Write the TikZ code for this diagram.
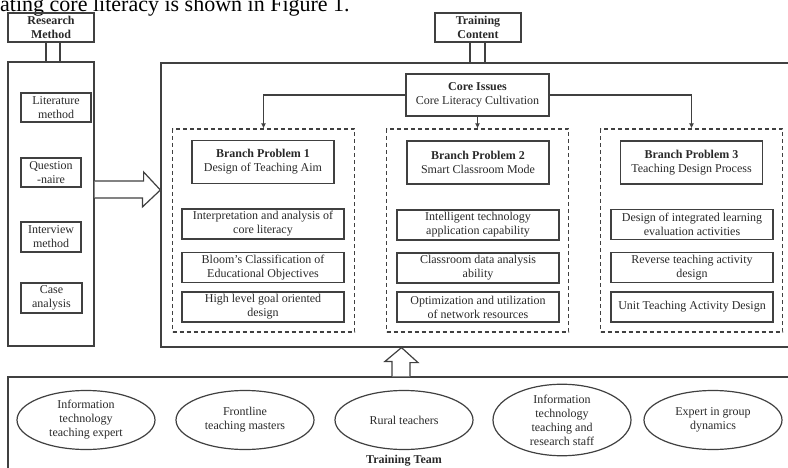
\documentclass[tikz,border=0pt]{standalone}
\usepackage{fontspec}
\setmainfont{Liberation Serif}
\usetikzlibrary{arrows.meta, calc, shapes.geometric}
\definecolor{LineGray}{rgb}{0.25, 0.25, 0.25}
\definecolor{TextGray}{rgb}{0.16, 0.16, 0.16}
\newcommand{\txt}{\fontsize{12}{14}\selectfont}

\begin{document}
\begin{tikzpicture}[
    x=1pt, y=-1pt,
    font=\txt,
    box/.style={draw=LineGray, line width=1.2pt, text=TextGray, align=center,
        inner sep=0pt},
    head/.style={box, font=\txt\bfseries, minimum width=86pt, minimum height=29pt},
    dashbox/.style={draw=LineGray, line width=1.2pt, dash pattern=on 4pt off 3pt,
        minimum width=182pt, minimum height=203pt},
    branch/.style={box, minimum width=142pt, minimum height=43pt},
    item/.style={box, minimum width=162pt, minimum height=30pt},
    member/.style={box, ellipse, minimum width=138pt, minimum height=59pt},
    line/.style={draw=LineGray, line width=1.2pt},
    hollow/.style={line, fill=white, line join=miter},
    tip/.style={line, -{Latex[length=5pt, width=5pt]}}
]
\useasboundingbox (0,0) rectangle (788,468);
\clip (0,0) rectangle (788,468);

% cut-off line of the page text
\node[anchor=base west, inner sep=0pt, font=\fontsize{22}{26}\selectfont] (caption) at (0,12)
    {ating core literacy is shown in Figure 1.};

% research method column
\node[head] (rmh) at (51,27.5) {Research\\Method};
\node[box, minimum width=86pt, minimum height=284pt] (methods) at (51,204) {};
\node[box, minimum width=70pt, minimum height=29pt] (lit) at (56,107.5) {Literature\\method};
\node[box, minimum width=60pt, minimum height=29pt] (quest) at (51,172.5) {Question\\-naire};
\node[box, minimum width=60pt, minimum height=30pt] (inter) at (51,237) {Interview\\method};
\node[box, minimum width=61pt, minimum height=30pt] (case) at (51.5,298) {Case\\analysis};

\draw[line] ($(rmh.south)+(-5,0)$) -- ($(rmh.south |- methods.north)+(-5,0)$);
\draw[line] ($(rmh.south)+(9,0)$) -- ($(rmh.south |- methods.north)+(9,0)$);

% training content
\node[head] (tch) at (478,27.5) {Training\\Content};
\node[box, minimum width=634pt, minimum height=284pt] (content) at (478,205) {};

\draw[line] ($(tch.south)+(-8,0)$) -- ($(tch.south |- content.north)+(-8,0)$);
\draw[line] ($(tch.south)+(7,0)$) -- ($(tch.south |- content.north)+(7,0)$);

\node[box, minimum width=143pt, minimum height=42pt] (core) at (477.5,95)
    {\textbf{Core Issues}\\Core Literacy Cultivation};

\node[dashbox] (dash1) at (263.5,230.5) {};
\node[dashbox] (dash2) at (477.5,230.5) {};
\node[dashbox] (dash3) at (691.5,230.5) {};

\draw[tip] (core.west) -| (dash1.north);
\draw[tip] (core.south) -- (dash2.north);
\draw[tip] (core.east) -| (dash3.north);

\node[branch] (bp1) at (263,162) {\textbf{Branch Problem 1}\\Design of Teaching Aim};
\node[branch] (bp2) at (478,162.5) {\textbf{Branch Problem 2}\\Smart Classroom Mode};
\node[branch] (bp3) at (691.5,162.5) {\textbf{Branch Problem 3}\\Teaching Design Process};

\node[item] (a1) at (263,224) {Interpretation and analysis of\\core literacy};
\node[item] (a2) at (263,267.5) {Bloom's Classification of\\Educational Objectives};
\node[item] (a3) at (263,307) {High level goal oriented\\design};

\node[item] (b1) at (478,225) {Intelligent technology\\application capability};
\node[item] (b2) at (478,268) {Classroom data analysis\\ability};
\node[item] (b3) at (478,307) {Optimization and utilization\\of network resources};

\node[item] (c1) at (692,224.5) {Design of integrated learning\\evaluation activities};
\node[item] (c2) at (692,267.5) {Reverse teaching activity\\design};
\node[item] (c3) at (692,307) {Unit Teaching Activity Design};

% methods feed the content
\draw[hollow] ($(methods.east)+(0,-23)$) -- ++(49,0) -- ++(0,-9)
    -- ($(content.west)+(0,-15)$) -- ++(-18,17) -- ++(0,-9) -- ($(methods.east)+(0,-6)$);

% training team
\node[box, minimum width=787pt, minimum height=123pt] (team) at (401.5,438.5) {};

\draw[hollow] ($(team.north)+(-9.5,0)$) -- ++(0,-15) -- ++(-7,0)
    -- (team.north |- content.south) -- ++(16.5,15) -- ++(-8,0) -- ($(team.north)+(8.5,0)$);

\node[member] (m1) at (86,420) {Information\\technology\\teaching expert};
\node[member] (m2) at (245,420) {Frontline\\teaching masters};
\node[member] (m3) at (404,420) {Rural teachers};
\node[member] (m4) at (562,420) {Information\\technology\\teaching and\\research staff};
\node[member] (m5) at (713,420) {Expert in group\\dynamics};

\node[font=\txt\bfseries, text=TextGray] (teamlbl) at (404,461) {Training Team};

\end{tikzpicture}
\end{document}
